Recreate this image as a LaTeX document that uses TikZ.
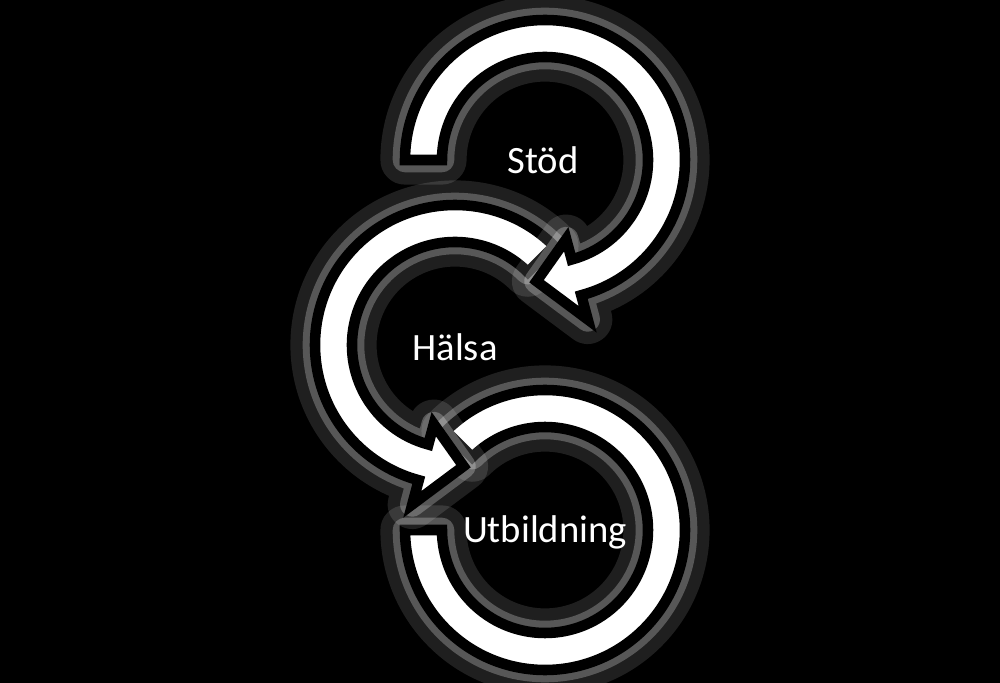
\documentclass[tikz,border=0pt]{standalone}
\usepackage{fontspec}
\setmainfont{Carlito}
\usetikzlibrary{calc}
\tikzset{
  glowa/.style={draw=white, line width=14, opacity=0.12, line join=round},
  glowb/.style={draw=white, line width=7, opacity=0.25, line join=round},
  arrowshape/.style={fill=white, draw=black, line width=3},
  label/.style={text=white, font=\fontsize{11}{13}\selectfont}
}
\begin{document}
\begin{tikzpicture}[x=0.1mm, y=0.1mm]
\fill[black] (0,0) rectangle (1000,683);
\useasboundingbox (0,0) rectangle (1000,683);

% Utbildning
\coordinate (cu) at (545,153);
\path[glowa] ($(cu)+(135:140)$) arc[start angle=135, end angle=-180, radius=140] -- ($(cu)+(180:103)$) arc[start angle=180, end angle=495, radius=103] -- cycle;
\path[glowb] ($(cu)+(135:140)$) arc[start angle=135, end angle=-180, radius=140] -- ($(cu)+(180:103)$) arc[start angle=180, end angle=495, radius=103] -- cycle;
\path[arrowshape] ($(cu)+(135:140)$) arc[start angle=135, end angle=-180, radius=140] -- ($(cu)+(180:103)$) arc[start angle=180, end angle=495, radius=103] -- cycle;

% Halsa
\coordinate (ch) at (455,338);
\path[glowa] ($(ch)+(45:140)$) arc[start angle=45, end angle=255, radius=140] -- ($(ch)+(255:165)$) -- ($(ch)+(274:121.5)$) -- ($(ch)+(255:82)$) -- ($(ch)+(255:103)$) arc[start angle=255, end angle=45, radius=103] -- cycle;
\path[glowb] ($(ch)+(45:140)$) arc[start angle=45, end angle=255, radius=140] -- ($(ch)+(255:165)$) -- ($(ch)+(274:121.5)$) -- ($(ch)+(255:82)$) -- ($(ch)+(255:103)$) arc[start angle=255, end angle=45, radius=103] -- cycle;
\path[arrowshape] ($(ch)+(45:140)$) arc[start angle=45, end angle=255, radius=140] -- ($(ch)+(255:165)$) -- ($(ch)+(274:121.5)$) -- ($(ch)+(255:82)$) -- ($(ch)+(255:103)$) arc[start angle=255, end angle=45, radius=103] -- cycle;

% Stod
\coordinate (cs) at (545,523);
\path[glowa] ($(cs)+(180:140)$) arc[start angle=180, end angle=-75, radius=140] -- ($(cs)+(-75:165)$) -- ($(cs)+(-94:121.5)$) -- ($(cs)+(-75:82)$) -- ($(cs)+(-75:103)$) arc[start angle=-75, end angle=180, radius=103] -- cycle;
\path[glowb] ($(cs)+(180:140)$) arc[start angle=180, end angle=-75, radius=140] -- ($(cs)+(-75:165)$) -- ($(cs)+(-94:121.5)$) -- ($(cs)+(-75:82)$) -- ($(cs)+(-75:103)$) arc[start angle=-75, end angle=180, radius=103] -- cycle;
\path[arrowshape] ($(cs)+(180:140)$) arc[start angle=180, end angle=-75, radius=140] -- ($(cs)+(-75:165)$) -- ($(cs)+(-94:121.5)$) -- ($(cs)+(-75:82)$) -- ($(cs)+(-75:103)$) arc[start angle=-75, end angle=180, radius=103] -- cycle;

\node[label] (stod) at (543,523) {Stöd};
\node[label] (halsa) at (455,336) {Hälsa};
\node[label] (utb) at (545,151) {Utbildning};
\end{tikzpicture}
\end{document}
